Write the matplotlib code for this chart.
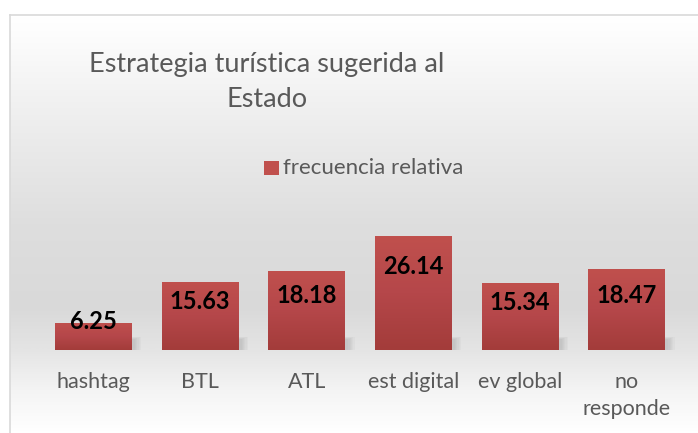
import numpy as np
import matplotlib.pyplot as plt
from matplotlib.colors import LinearSegmentedColormap
from matplotlib.patches import Rectangle

plt.rcParams['font.family'] = ['Lato', 'DejaVu Sans']

categorias = ['hashtag', 'BTL', 'ATL', 'est digital', 'ev global', 'no\nresponde']
frecuencia = [6.25, 15.63, 18.18, 26.14, 15.34, 18.47]
titulo = 'Estrategia turística sugerida al\nEstado'
serie = 'frecuencia relativa'

W, H = 698, 433
fig = plt.figure(figsize=(W / 100, H / 100), dpi=100)

# fondo con degradado vertical (estilo Excel)
bg = fig.add_axes([0, 0, 1, 1])
bg.set_xlim(0, W)
bg.set_ylim(H, 0)
bg.axis('off')
stops = [(0.0, '#ffffff'), (0.035, '#fdfdfd'), (0.25, '#eeeeee'), (0.5, '#dedede'),
         (0.7, '#d9d9d9'), (0.8, '#e4e4e4'), (0.9, '#f4f4f4'), (1.0, '#ffffff')]
cmap_bg = LinearSegmentedColormap.from_list('bg', stops)
grad = np.linspace(0, 1, 400).reshape(-1, 1)
bg.imshow(grad, cmap=cmap_bg, extent=[10, W, H, 15], aspect='auto', zorder=0)
bg.plot([10, W], [15, 15], color='#d9d9d9', lw=1.2, zorder=1)
bg.plot([10, 10], [15, H], color='#d9d9d9', lw=1.2, zorder=1)

# titulo y leyenda
bg.text(267, 82, titulo, ha='center', va='center', multialignment='center', fontsize=19.5,
        color='#595959', linespacing=1.5, zorder=2)
bg.add_patch(Rectangle((264, 161), 15, 14, facecolor='#c0504d', edgecolor='none', zorder=2))
bg.text(283, 168, serie, ha='left', va='center', fontsize=16, color='#595959', zorder=2)

# area de grafico
ax = fig.add_axes([40 / W, 1 - 350 / H, 640 / W, 150 / H])
ax.patch.set_alpha(0)
ppu = 4.36  # px por unidad
for s in ax.spines.values():
    s.set_visible(False)
ax.set_yticks([])

x = np.arange(len(categorias))
ancho = 0.72
bars = ax.bar(x, frecuencia, width=ancho, color='#b44643', zorder=3)

# sombra suave detras de las barras
for xi, v in zip(x, frecuencia):
    for k in range(6):
        ax.add_patch(Rectangle((xi - ancho / 2 + 0.03 + k * 0.012, 0), ancho, min(v, 2.5 + k * 0.1),
                               facecolor='#7f7f7f', alpha=0.05, edgecolor='none', zorder=2))

cmap_bar = LinearSegmentedColormap.from_list('bar', ['#a33c3a', '#b5474a', '#c0504d'])
for b in bars:
    b.set_facecolor('none')
    x0, y0 = b.get_x(), b.get_y()
    im = ax.imshow(np.linspace(0, 1, 100).reshape(-1, 1), cmap=cmap_bar, aspect='auto',
                   extent=[x0, x0 + b.get_width(), y0, y0 + b.get_height()], origin='lower', zorder=3)
    im.set_clip_path(b)
ax.set_xlim(-0.5, len(categorias) - 0.5)
ax.set_ylim(0, 150 / ppu)

for xi, v in zip(x, frecuencia):
    ly = max(v - 30 / ppu, v * 0.5 + 3.3)
    ax.text(xi, ly, f'{v:.2f}', ha='center', va='center', fontsize=17, fontweight='bold',
            color='black', zorder=5)

ax.set_xticks(x)
ax.set_xticklabels(categorias, fontsize=15.5, color='#595959', linespacing=1.45)
ax.tick_params(axis='x', length=0, pad=16)

fig.savefig('out.png', dpi=100)
